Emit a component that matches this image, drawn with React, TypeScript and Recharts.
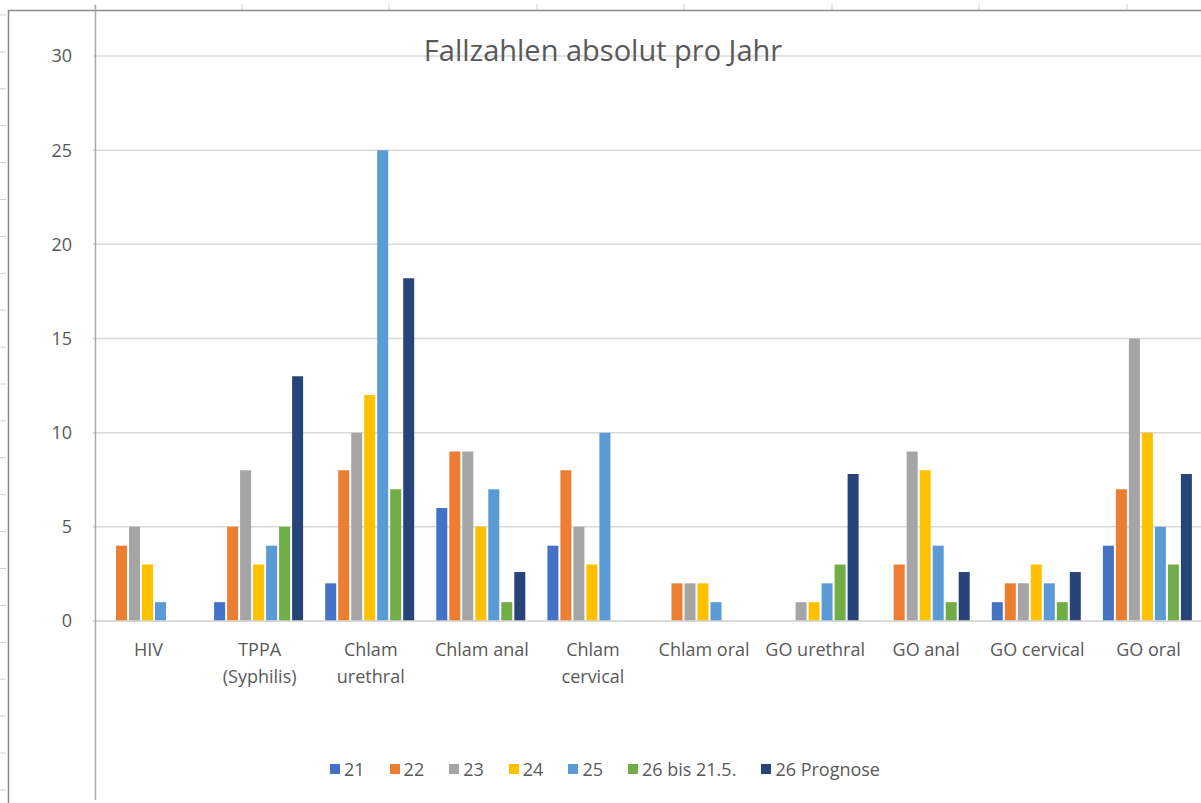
import { BarChart, Bar, XAxis, YAxis, CartesianGrid, Legend } from 'recharts';

// category labels, already split into the lines Excel wrapped them into
const categoryLines = [
    ['HIV'],
    ['TPPA', '(Syphilis)'],
    ['Chlam', 'urethral'],
    ['Chlam anal'],
    ['Chlam', 'cervical'],
    ['Chlam oral'],
    ['GO urethral'],
    ['GO anal'],
    ['GO cervical'],
    ['GO oral']
];

const seriesNames = ['21', '22', '23', '24', '25', '26 bis 21.5.', '26 Prognose'];
const seriesColors = ['#4472C4', '#ED7D31', '#A5A5A5', '#FFC000', '#5B9BD5', '#70AD47', '#264478'];

const y21 = [0, 1, 2, 6, 4, 0, 0, 0, 1, 4];
const y22 = [4, 5, 8, 9, 8, 2, 0, 3, 2, 7];
const y23 = [5, 8, 10, 9, 5, 2, 1, 9, 2, 15];
const y24 = [3, 3, 12, 5, 3, 2, 1, 8, 3, 10];
const y25 = [1, 4, 25, 7, 10, 1, 2, 4, 2, 5];
const y26 = [0, 5, 7, 1, 0, 0, 3, 1, 1, 3];
const y26Prognose = [0, 13, 18.2, 2.6, 0, 0, 7.8, 2.6, 2.6, 7.8];

const yTicks = [0, 5, 10, 15, 20, 25, 30];

const allSeries = [y21, y22, y23, y24, y25, y26, y26Prognose];
const data = categoryLines.map((lines, i) => {
    const row: any = { name: lines.join(' ') };
    seriesNames.forEach((s, k) => { row['s' + k] = allSeries[k][i]; });
    return row;
});

const FONT = "'Open Sans', 'Liberation Sans', sans-serif";
const TEXT = '#595959';

const CategoryTick = (props: any) => {
    const { x, y, payload } = props;
    const lines = categoryLines[payload.index] || [payload.value];
    return (
        <text x={x} y={y} textAnchor="middle" fill={TEXT} fontSize={18} fontFamily={FONT}>
            {lines.map((l, i) => (
                <tspan key={i} x={x} dy={i === 0 ? 35 : 27}>{l}</tspan>
            ))}
        </text>
    );
};

const LegendContent = (props: any) => {
    // keep series order (recharts sorts the payload by name)
    const payload = [...(props.payload || [])].sort((a: any, b: any) => seriesNames.indexOf(a.value) - seriesNames.indexOf(b.value));
    return (
        <div style={{ display: 'flex', justifyContent: 'center', gap: 25, fontFamily: FONT, fontSize: 18, color: TEXT, height: 26, alignItems: 'center' }}>
            {payload.map((p: any) => (
                <div key={p.value} style={{ display: 'flex', alignItems: 'center' }}>
                    <div style={{ width: 10, height: 10, background: p.color, marginRight: 4 }}></div>
                    <span>{p.value}</span>
                </div>
            ))}
        </div>
    );
};

// spreadsheet frame around the chart (cell borders, row/column marks)
const Frame = () => {
    const rowMarks = [];
    for (let y = 15; y < 803; y += 36.9) rowMarks.push(y);
    const colMarks = [95, 242, 389, 537, 684, 832, 979, 1127];
    return (
        <svg width={1201} height={803} style={{ position: 'absolute', left: 0, top: 0, pointerEvents: 'none' }}>
            {rowMarks.map((y, i) => <line key={'r' + i} x1={0} x2={6} y1={y} y2={y} stroke="#cfcfcf" strokeWidth={1} />)}
            {colMarks.map((x, i) => <line key={'c' + i} x1={x} x2={x} y1={4} y2={10} stroke="#cfcfcf" strokeWidth={1} />)}
            <line x1={8} x2={1201} y1={10.5} y2={10.5} stroke="#8a8a8a" strokeWidth={1.5} />
            <line x1={8.5} x2={8.5} y1={10} y2={803} stroke="#8a8a8a" strokeWidth={1.5} />
            <line x1={95.5} x2={95.5} y1={5} y2={800} stroke="#a8a8a8" strokeWidth={1.5} />
            <text x={603} y={61} textAnchor="middle" fill={TEXT} fontSize={29} fontFamily={FONT}>Fallzahlen absolut pro Jahr</text>
        </svg>
    );
};

export default function App() {
    return (
        <div style={{ position: 'fixed', left: 0, top: 0, width: 1201, height: 803, overflow: 'hidden', background: '#fff' }}>
            <BarChart width={1210} height={803} data={data} margin={{ top: 56, right: 6, left: 0, bottom: 21 }}
                barCategoryGap="9%" barGap={2}>
                <CartesianGrid vertical={false} stroke="#d9d9d9" strokeWidth={1.5} />
                <XAxis dataKey="name" interval={0} tickLine={false} tickSize={0} tickMargin={0}
                    axisLine={{ stroke: '#d9d9d9', strokeWidth: 1.5 }} height={135} tick={<CategoryTick />} />
                <YAxis domain={[0, 30]} ticks={yTicks} width={93} axisLine={false} tickLine={false} tickSize={0} tickMargin={21}
                    tick={{ fill: TEXT, fontSize: 18, fontFamily: FONT }} />
                <Legend verticalAlign="bottom" content={<LegendContent />} wrapperStyle={{ left: 0, width: 1210 }} />
                {seriesNames.map((s, k) => (
                    <Bar key={s} dataKey={'s' + k} name={s} fill={seriesColors[k]} isAnimationActive={false} />
                ))}
            </BarChart>
            <Frame />
        </div>
    );
}
